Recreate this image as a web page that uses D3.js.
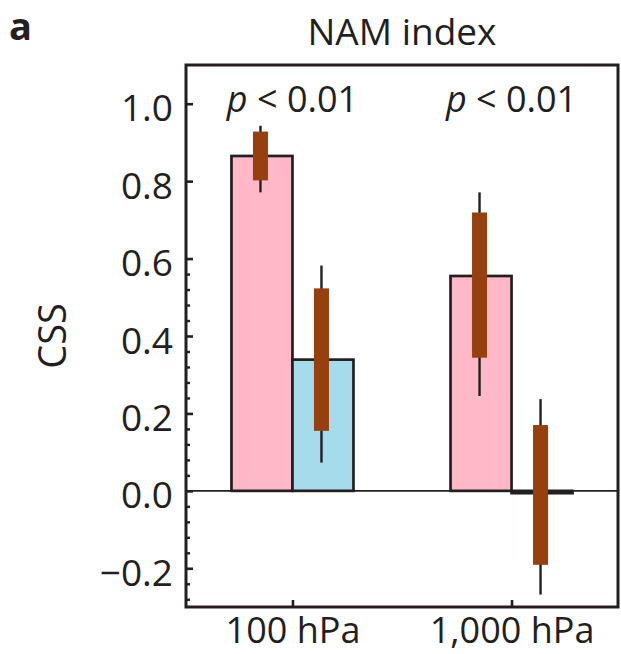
<!DOCTYPE html>
<html>
<head>
<meta charset="utf-8">
<script src="https://cdn.jsdelivr.net/npm/d3@7"></script>
<style>
  body { margin: 0; background: #fff; }
  text { font-family: "Open Sans", sans-serif; fill: #231f20; }
</style>
</head>
<body>
<div class="container"></div>
<script>
// chart values
const groups = ["100 hPa", "1,000 hPa"];
const seriesKeys = ["pink", "blue"];
const barValues = [[0.865, 0.339], [0.555, -0.006]];
const boxLow = [[0.802, 0.155], [0.344, -0.191]];
const boxHigh = [[0.928, 0.523], [0.719, 0.170]];
const whiskerLow = [[0.771, 0.073], [0.245, -0.268]];
const whiskerHigh = [[0.943, 0.582], [0.771, 0.237]];
const pLabels = ["0.01", "0.01"];
const yMajorTicks = [-0.2, 0, 0.2, 0.4, 0.6, 0.8, 1.0];
const yMinorTicks = [-0.28, -0.24, -0.16, -0.12, -0.08, -0.04, 0.04, 0.08, 0.12, 0.16, 0.24, 0.28, 0.32, 0.36, 0.44, 0.48, 0.52, 0.56];

const width = 621, height = 654;
const plotLeft = 186, plotRight = 618, plotTop = 65, plotBottom = 607;
const ink = "#231f20";
const colors = {pink: "#ffb8c8", blue: "#a5dbeb"};

const svg = d3.select(".container").append("svg").attr("width", width).attr("height", height);

const x = d3.scalePoint().domain(groups).range([plotLeft, plotRight]).padding(0.486);
const x1 = d3.scaleBand().domain(seriesKeys).range([-61, 61]);
const y = d3.scaleLinear().domain([-0.3, 1.1]).range([plotBottom, plotTop]);

// flatten for drawing
const rows = [];
groups.forEach((g, i) => seriesKeys.forEach((k, j) => rows.push({
  g: g, k: k, v: barValues[i][j],
  bl: boxLow[i][j], bh: boxHigh[i][j], wl: whiskerLow[i][j], wh: whiskerHigh[i][j]
})));

svg.append("g").selectAll("rect")
  .data(rows)
  .enter()
  .append("rect")
  .attr("x", d => x(d.g) + x1(d.k))
  .attr("width", x1.bandwidth())
  .attr("y", d => y(Math.max(0, d.v)))
  .attr("height", d => Math.abs(y(d.v) - y(0)))
  .attr("fill", d => colors[d.k])
  .attr("stroke", ink)
  .attr("stroke-width", 2.7);

// zero line
svg.append("line")
  .attr("x1", plotLeft).attr("x2", plotRight)
  .attr("y1", y(0)).attr("y2", y(0))
  .attr("stroke", ink).attr("stroke-width", 1.7);

// error bars
const cx = d => x(d.g) + x1(d.k) + x1.bandwidth() / 2 - 1.5;
const eb = svg.append("g");
eb.selectAll("line")
  .data(rows)
  .enter()
  .append("line")
  .attr("x1", cx)
  .attr("x2", cx)
  .attr("y1", d => y(d.wh))
  .attr("y2", d => y(d.wl))
  .attr("stroke", ink)
  .attr("stroke-width", 2.4);
eb.selectAll("rect")
  .data(rows)
  .enter()
  .append("rect")
  .attr("x", d => cx(d) - 7.5)
  .attr("width", 15)
  .attr("y", d => y(d.bh))
  .attr("height", d => y(d.bl) - y(d.bh))
  .attr("fill", "#96400f");

// frame
svg.append("rect")
  .attr("x", plotLeft).attr("y", plotTop)
  .attr("width", plotRight - plotLeft).attr("height", plotBottom - plotTop)
  .attr("fill", "none").attr("stroke", ink).attr("stroke-width", 3);

// y axis
const yAxis = d3.axisLeft(y).tickValues(yMajorTicks).tickSize(-7).tickPadding(13).tickFormat(d3.format(".1f"));
const gy = svg.append("g").attr("transform", `translate(${plotLeft},0)`).call(yAxis);
gy.select(".domain").remove();
gy.selectAll("line").attr("stroke", ink).attr("stroke-width", 2.6);
gy.selectAll("text").style("font-size", "37px").attr("dy", "0.46em");

const gm = svg.append("g").attr("transform", `translate(${plotLeft},0)`)
  .call(d3.axisLeft(y).tickValues(yMinorTicks).tickSize(-4).tickFormat(""));
gm.select(".domain").remove();
gm.selectAll("line").attr("stroke", ink).attr("stroke-width", 2.4);

// x axis
const gx = svg.append("g").attr("transform", `translate(0,${plotBottom})`)
  .call(d3.axisBottom(x).tickSize(-7).tickPadding(10));
gx.select(".domain").remove();
gx.selectAll("line").attr("stroke", ink).attr("stroke-width", 2.6);
gx.selectAll("text").style("font-size", "36px");

// p-value labels
svg.append("g").selectAll("text")
  .data(groups)
  .enter()
  .append("text")
  .attr("x", d => x(d))
  .attr("y", 112)
  .attr("text-anchor", "middle")
  .style("font-size", "36px")
  .each(function(d, i) {
    const t = d3.select(this);
    t.append("tspan").style("font-style", "italic").text("p");
    t.append("tspan").text(" < " + pLabels[i]);
  });

// titles
svg.append("text").attr("x", (plotLeft + plotRight) / 2).attr("y", 45)
  .attr("text-anchor", "middle").style("font-size", "37px").text("NAM index");
svg.append("text").attr("x", 9).attr("y", 40)
  .style("font-size", "38px").style("font-weight", "bold").text("a");
svg.append("text")
  .attr("transform", `translate(66,${(plotTop + plotBottom) / 2}) rotate(-90)`)
  .attr("text-anchor", "middle").style("font-size", "38px").text("CSS");
</script>
</body>
</html>
